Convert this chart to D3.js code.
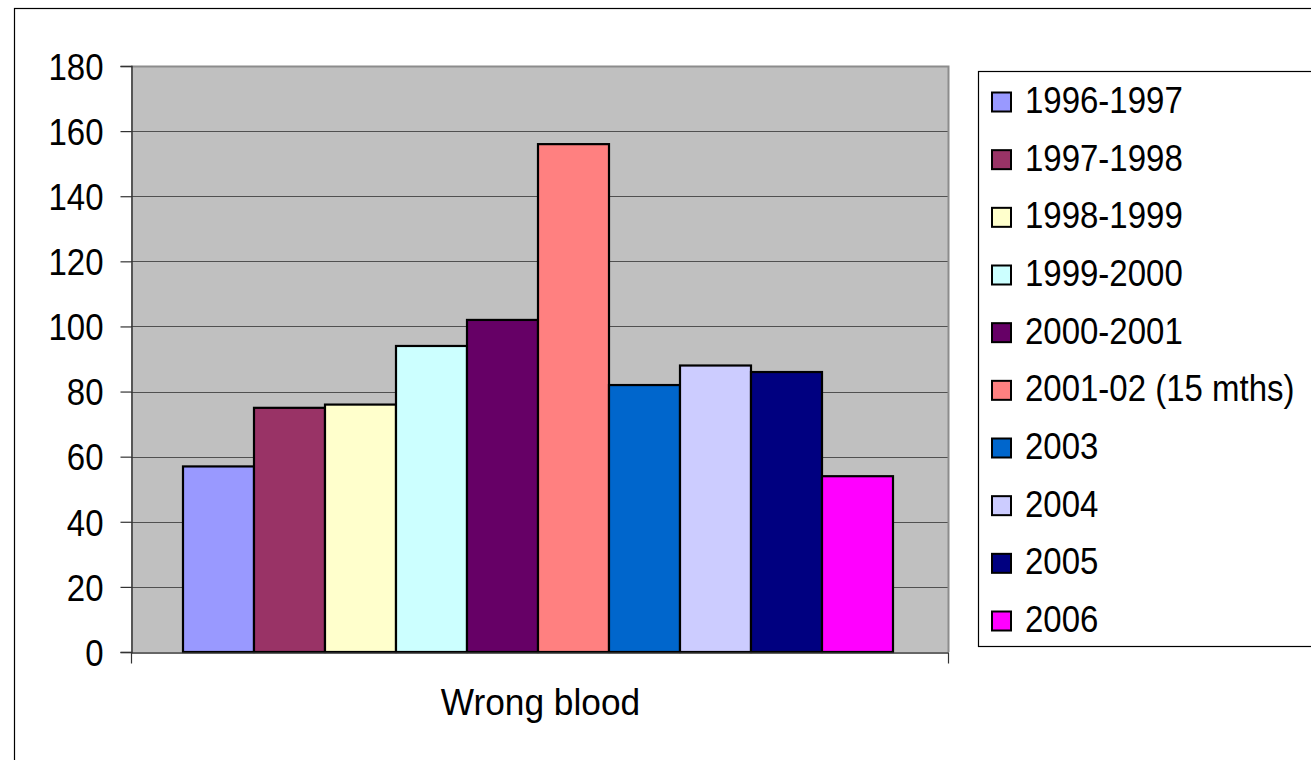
<!DOCTYPE html>
<html>
<head>
<meta charset="utf-8">
<script src="https://cdn.jsdelivr.net/npm/d3@7"></script>
<style>
  html, body { margin: 0; padding: 0; background: #ffffff; }
  svg { display: block; }
  text { font-family: "Liberation Sans", Arial, sans-serif; fill: #000; }
</style>
</head>
<body>
<svg id="chart" width="1311" height="760"></svg>
<script>
// Incident counts per reporting period
const category = "Wrong blood";
const periods = ["1996-1997", "1997-1998", "1998-1999", "1999-2000", "2000-2001",
                 "2001-02 (15 mths)", "2003", "2004", "2005", "2006"];
const counts = [57, 75, 76, 94, 102, 156, 82, 88, 86, 54];
const colors = ["#9999FF", "#993366", "#FFFFCC", "#CCFFFF", "#660066",
                "#FF8080", "#0066CC", "#CCCCFF", "#000080", "#FF00FF"];
const yTicks = [0, 20, 40, 60, 80, 100, 120, 140, 160, 180];

const svg = d3.select("#chart");
const plot = { left: 131, right: 948, top: 66, bottom: 652 };
const textScaleY = 1.12;

// outer chart frame
svg.append("rect")
  .attr("x", 14.5).attr("y", 8.5)
  .attr("width", 1400).attr("height", 800)
  .attr("fill", "#fff").attr("stroke", "#000").attr("stroke-width", 1.2);

const y = d3.scaleLinear().domain([0, 180]).range([plot.bottom, plot.top]);
const xCat = d3.scaleBand().domain([category]).range([plot.left, plot.right]).paddingInner(0).paddingOuter(0);
const xSeries = d3.scaleBand().domain(periods)
  .range([xCat(category) + 52, xCat(category) + xCat.bandwidth() - 55])
  .paddingInner(0);

// plot background
svg.append("rect")
  .attr("x", plot.left).attr("y", plot.top)
  .attr("width", plot.right - plot.left).attr("height", plot.bottom - plot.top)
  .attr("fill", "#C0C0C0");

// horizontal gridlines
svg.append("g").selectAll("line")
  .data(yTicks.filter(d => d > 0 && d < 180))
  .join("line")
  .attr("x1", plot.left).attr("x2", plot.right)
  .attr("y1", d => Math.round(y(d)) + 0.5).attr("y2", d => Math.round(y(d)) + 0.5)
  .attr("stroke", "#505050").attr("stroke-width", 1.2);

// plot border (top and right)
svg.append("path")
  .attr("d", `M${plot.left},${plot.top + 0.5}H${plot.right + 0.5}V${plot.bottom}`)
  .attr("fill", "none").attr("stroke", "#8c8c8c").attr("stroke-width", 2);

// bars
svg.append("g").selectAll("rect")
  .data(periods.map((p, i) => ({ p, v: counts[i], c: colors[i] })))
  .join("rect")
  .attr("x", d => xSeries(d.p))
  .attr("y", d => y(d.v))
  .attr("width", xSeries.bandwidth())
  .attr("height", d => y(0) - y(d.v))
  .attr("fill", d => d.c)
  .attr("stroke", "#000").attr("stroke-width", 2.2);

// y axis
const yAxis = d3.axisLeft(y).tickValues(yTicks).tickSize(11).tickPadding(0).tickFormat(d3.format("d"));
const gy = svg.append("g").attr("transform", `translate(${plot.left + 0.5},0)`).call(yAxis);
gy.select(".domain").attr("stroke", "#333").attr("stroke-width", 1.5);
gy.selectAll(".tick line").attr("stroke", "#333").attr("stroke-width", 1.2);
gy.selectAll(".tick text").remove();
gy.selectAll(".tick").append("g")
  .attr("transform", `translate(-28,0) scale(1,${textScaleY})`)
  .append("text")
  .attr("text-anchor", "end")
  .attr("dy", "0.36em")
  .attr("font-size", 33)
  .text(d => d);

// x axis
const xAxis = d3.axisBottom(xCat).tickSize(0).tickFormat(() => "");
const gx = svg.append("g").attr("transform", `translate(0,${plot.bottom + 0.5})`).call(xAxis);
gx.select(".domain").attr("stroke", "#333").attr("stroke-width", 1.5);
gx.selectAll(".tick").remove();
[plot.left, plot.right].forEach(px => {
  gx.append("line")
    .attr("x1", px + 0.5).attr("x2", px + 0.5)
    .attr("y1", 0).attr("y2", 11)
    .attr("stroke", "#333").attr("stroke-width", 1.2);
});
svg.append("g")
  .attr("transform", `translate(${xCat(category) + xCat.bandwidth() / 2 + 1},715) scale(1.07,${textScaleY})`)
  .append("text")
  .attr("text-anchor", "middle")
  .attr("font-size", 33)
  .text(category);

// legend
const legend = svg.append("g");
legend.append("rect")
  .attr("x", 978.5).attr("y", 71.5)
  .attr("width", 400).attr("height", 575)
  .attr("fill", "#fff").attr("stroke", "#000").attr("stroke-width", 1.2);
const rowY = d3.scalePoint().domain(periods).range([102, 621]);
const rows = legend.selectAll("g.row").data(periods.map((p, i) => ({ p, c: colors[i] })))
  .join("g").attr("class", "row")
  .attr("transform", d => `translate(0,${rowY(d.p)})`);
rows.append("rect")
  .attr("x", 992).attr("y", -9.5)
  .attr("width", 19).attr("height", 19)
  .attr("fill", d => d.c)
  .attr("stroke", "#000").attr("stroke-width", 2);
rows.append("g")
  .attr("transform", `translate(1025,11) scale(1,${textScaleY})`)
  .append("text")
  .attr("font-size", 33)
  .text(d => d.p);
</script>
</body>
</html>
